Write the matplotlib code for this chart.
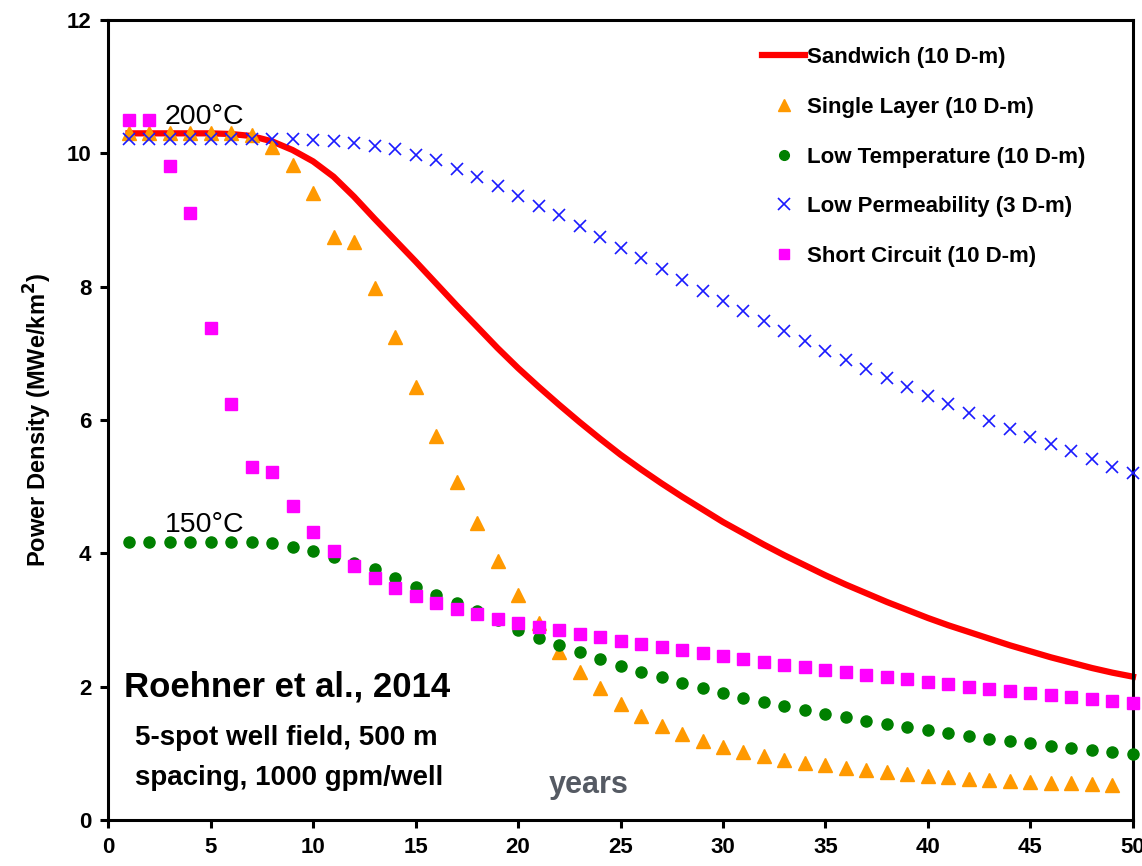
import numpy as np
import matplotlib
matplotlib.use("Agg")
import matplotlib.pyplot as plt
from matplotlib.lines import Line2D

plt.rcParams['font.family'] = ['Liberation Sans', 'DejaVu Sans']

years = np.arange(1, 51)

# Sandwich reservoir (continuous curve, MWe/km2)
sandwich = [10.30, 10.30, 10.30, 10.30, 10.30, 10.29, 10.26, 10.18, 10.05, 9.88,
            9.65, 9.35, 9.02, 8.70, 8.38, 8.05, 7.72, 7.40, 7.08, 6.78,
            6.50, 6.23, 5.97, 5.72, 5.48, 5.26, 5.05, 4.85, 4.66, 4.47,
            4.30, 4.13, 3.97, 3.82, 3.67, 3.53, 3.40, 3.27, 3.15, 3.03,
            2.92, 2.82, 2.72, 2.62, 2.53, 2.44, 2.36, 2.28, 2.21, 2.15]

# Single layer, years 1-49
single_layer = [10.30, 10.30, 10.30, 10.30, 10.30, 10.30, 10.28, 10.10, 9.82, 9.40,
                8.75, 8.67, 7.98, 7.24, 6.50, 5.76, 5.07, 4.45, 3.88, 3.37,
                2.95, 2.52, 2.22, 1.98, 1.74, 1.56, 1.41, 1.29, 1.19, 1.10,
                1.02, 0.96, 0.90, 0.86, 0.82, 0.78, 0.75, 0.72, 0.69, 0.66,
                0.64, 0.62, 0.60, 0.59, 0.57, 0.56, 0.55, 0.54, 0.53]

low_temp = [4.17, 4.17, 4.17, 4.17, 4.17, 4.17, 4.17, 4.15, 4.10, 4.04,
            3.95, 3.86, 3.76, 3.63, 3.50, 3.37, 3.25, 3.14, 3.00, 2.85,
            2.73, 2.62, 2.52, 2.41, 2.31, 2.22, 2.14, 2.06, 1.98, 1.91,
            1.83, 1.77, 1.71, 1.65, 1.59, 1.54, 1.49, 1.44, 1.40, 1.35,
            1.31, 1.26, 1.22, 1.18, 1.15, 1.11, 1.08, 1.05, 1.02, 0.99]

low_perm = [10.22, 10.22, 10.22, 10.22, 10.22, 10.22, 10.22, 10.22, 10.21, 10.20,
            10.19, 10.16, 10.11, 10.06, 9.97, 9.90, 9.77, 9.65, 9.51, 9.36,
            9.21, 9.07, 8.91, 8.75, 8.58, 8.43, 8.27, 8.10, 7.94, 7.79,
            7.64, 7.48, 7.33, 7.19, 7.04, 6.90, 6.76, 6.63, 6.49, 6.36,
            6.24, 6.11, 5.99, 5.86, 5.74, 5.64, 5.53, 5.41, 5.30, 5.20]

short_circuit = [10.50, 10.50, 9.81, 9.10, 7.38, 6.24, 5.30, 5.22, 4.71, 4.32,
                 4.03, 3.81, 3.63, 3.48, 3.36, 3.26, 3.17, 3.09, 3.01, 2.95,
                 2.90, 2.85, 2.79, 2.74, 2.69, 2.64, 2.59, 2.55, 2.50, 2.46,
                 2.41, 2.37, 2.33, 2.29, 2.25, 2.22, 2.18, 2.14, 2.11, 2.07,
                 2.04, 2.00, 1.96, 1.93, 1.90, 1.87, 1.84, 1.81, 1.78, 1.75]

labels = ['Sandwich (10 D-m)', 'Single Layer (10 D-m)', 'Low Temperature (10 D-m)',
          'Low Permeability (3 D-m)', 'Short Circuit (10 D-m)']

fig = plt.figure(figsize=(11.42, 8.66), dpi=100)
ax = fig.add_axes([0.0946, 0.0531, 0.8975, 0.9238])

ax.plot(years, sandwich, color='#ff0000', lw=4.5, zorder=2, clip_on=False)
ax.plot(years[:len(single_layer)], single_layer, ls='none', marker='^', ms=9.5,
        color='#ff9900', zorder=3, clip_on=False)
ax.plot(years, low_temp, ls='none', marker='o', ms=8, color='#008000',
        zorder=4, clip_on=False)
ax.plot(years, short_circuit, ls='none', marker='s', ms=8.5, color='#ff00ff',
        zorder=5, clip_on=False)
ax.plot(years, low_perm, ls='none', marker='x', ms=9, mew=1.2, color='#1a1aff',
        zorder=6, clip_on=False)

ax.set_xlim(0, 50)
ax.set_ylim(0, 12)
ax.set_xticks(np.arange(0, 51, 5))
ax.set_yticks(np.arange(0, 13, 2))
for s in ax.spines.values():
    s.set_linewidth(2.2)
ax.tick_params(direction='out', length=6, width=2.2, labelsize=16, pad=6)
for t in ax.get_xticklabels() + ax.get_yticklabels():
    t.set_fontweight('bold')

ax.set_ylabel('Power Density (MWe/km$^\\mathbf{2}$)', fontsize=17, fontweight='bold',
              labelpad=9)

ax.text(2.75, 10.55, '200°C', fontsize=20.5, ha='left', va='center')
ax.text(2.75, 4.42, '150°C', fontsize=20.5, ha='left', va='center')
ax.text(0.8, 1.99, 'Roehner et al., 2014', fontsize=25, fontweight='bold',
        ha='left', va='center')
ax.text(1.3, 1.23, '5-spot well field, 500 m', fontsize=20, fontweight='bold',
        ha='left', va='center')
ax.text(1.3, 0.63, 'spacing, 1000 gpm/well', fontsize=20, fontweight='bold',
        ha='left', va='center')
ax.text(21.5, 0.52, 'years', fontsize=22, fontweight='bold', color='#555a63',
        ha='left', va='center')

handles = [
    Line2D([], [], color='#ff0000', lw=4.5),
    Line2D([], [], ls='none', marker='^', ms=8, color='#ff9900'),
    Line2D([], [], ls='none', marker='o', ms=7, color='#008000'),
    Line2D([], [], ls='none', marker='x', ms=8, mew=1.2, color='#1a1aff'),
    Line2D([], [], ls='none', marker='s', ms=7, color='#ff00ff'),
]
ax.legend(handles, labels, loc='upper left', bbox_to_anchor=(0.619, 0.991),
          frameon=False, prop={'weight': 'bold', 'size': 16},
          handlelength=1.9, handletextpad=0.12, labelspacing=1.29)

fig.savefig('out.png', dpi=100)
